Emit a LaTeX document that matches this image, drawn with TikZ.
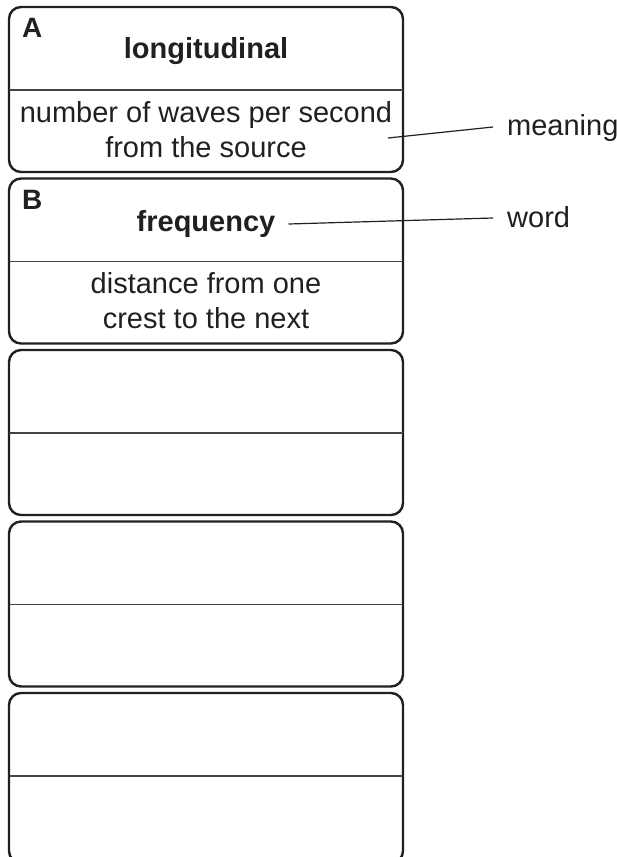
\documentclass[tikz,border=0pt]{standalone}
\usepackage{fontspec}
\setmainfont{Liberation Sans}
\definecolor{ink}{HTML}{231F20}
\begin{document}
\begin{tikzpicture}[x=1pt,y=-1pt,
  cardbox/.style={draw=ink, line width=2.4pt, rounded corners=12pt, minimum width=394pt, minimum height=165pt, anchor=north west, inner sep=0pt, outer sep=0pt},
  divline/.style={draw=ink!85, line width=1.4pt},
  txt/.style={font=\fontsize{29}{35}\selectfont, text=ink, inner sep=0pt, anchor=base},
  head/.style={txt, font=\fontsize{29}{35}\selectfont\bfseries},
  tag/.style={txt, font=\fontsize{28}{34}\selectfont\bfseries, anchor=base west},
  side/.style={txt, anchor=base west, inner xsep=14pt},
  lead/.style={draw=ink, line width=1.2pt}]
\clip (0,0) rectangle (617,857);
\foreach \i/\t/\h in {1/7/165,2/178.5/165,3/350/165,4/521.5/165,5/693/170}{
  \node[cardbox, minimum height=\h pt] (box\i) at (9,\t) {};
  \draw[divline] ([yshift=-83pt]box\i.north west) -- ([yshift=-83pt]box\i.north east);
}
\node[tag] (labA) at (22,37) {A};
\node[head] (wordA) at (206,58) {longitudinal};
\node[txt] (meanA1) at (206,122) {number of waves per second};
\node[txt] (meanA2) at (206,157) {from the source};
\node[tag] (labB) at (22,209) {B};
\node[head] (wordB) at (206,231) {frequency};
\node[txt] (meanB1) at (206,293) {distance from one};
\node[txt] (meanB2) at (206,328) {crest to the next};
\coordinate (mpt) at (388,138);
\node[side] (meaning) at (493,135) {meaning};
\node[side] (word) at (493,227) {word};
\draw[lead] (mpt) -- ([yshift=8pt]meaning.base west);
\draw[lead] ([xshift=13pt,yshift=7pt]wordB.base east) -- ([yshift=9pt]word.base west);
\end{tikzpicture}
\end{document}
